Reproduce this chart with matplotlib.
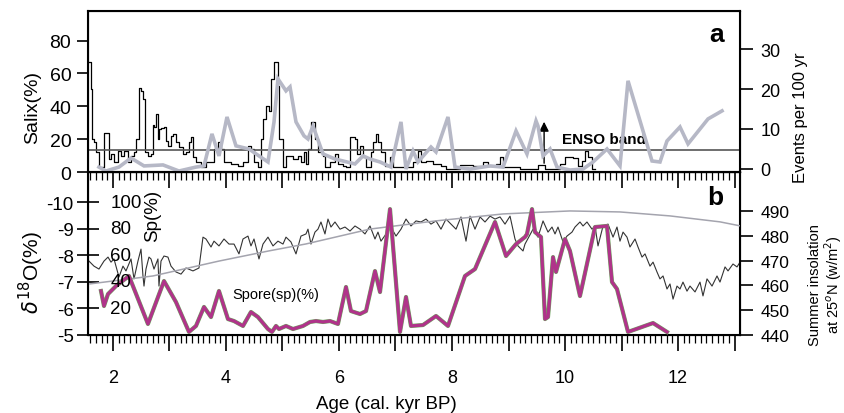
import matplotlib
matplotlib.use('Agg')
import matplotlib.pyplot as plt
from matplotlib.ticker import MultipleLocator

plt.rcParams['font.family'] = ['Liberation Sans', 'DejaVu Sans']
plt.rcParams['axes.unicode_minus'] = False
plt.rcParams['mathtext.fontset'] = 'dejavusans'

# --- panel a: Salix pollen (grey) and ENSO events per 100 yr (black steps)
salix_age = [1.752, 1.876, 2.106, 2.319, 2.549, 2.885, 3.168, 3.469, 3.611, 3.752,
             3.876, 4.018, 4.177, 4.407, 4.584, 4.743, 4.850, 4.920, 5.062, 5.133,
             5.239, 5.381, 5.451, 5.540, 5.717, 5.929, 6.071, 6.283, 6.425, 6.549,
             6.726, 6.920, 7.097, 7.186, 7.310, 7.398, 7.628, 7.717, 7.929, 8.053,
             8.319, 8.673, 8.903, 9.133, 9.327, 9.487, 9.522, 9.611, 9.735, 9.858,
             10.088, 10.319, 10.496, 10.743, 10.973, 11.115, 11.540, 11.681, 11.805, 12.035,
             12.177, 12.531, 12.779]
salix = [3.0, 0.6, 3.0, 8.5, 3.7, 4.3, 0.6, 3.0, 3.7, 23.2,
         9.8, 33.5, 15.9, 14.0, 9.8, 6.1, 30.5, 56.7, 49.4, 51.8,
         30.5, 22.0, 20.1, 28.0, 11.0, 7.9, 6.7, 4.9, 9.8, 7.9,
         6.1, 3.0, 30.5, 1.8, 12.8, 6.1, 15.2, 12.2, 33.5, 3.0,
         1.8, 3.7, 3.0, 25.0, 11.0, 31.1, 28.0, 9.8, 14.0, 3.0,
         1.2, 1.8, 6.1, 14.0, 3.7, 55.5, 6.7, 6.1, 18.9, 27.4,
         17.1, 32.3, 37.2]

event_age = [1.575, 1.611, 1.628, 1.664, 1.699, 1.752, 1.841, 1.929, 1.965, 2.018,
             2.088, 2.142, 2.195, 2.265, 2.319, 2.372, 2.407, 2.460, 2.496, 2.531,
             2.566, 2.619, 2.673, 2.708, 2.726, 2.761, 2.796, 2.814, 2.850, 2.903,
             2.938, 2.973, 3.027, 3.062, 3.115, 3.168, 3.239, 3.292, 3.345, 3.381,
             3.416, 3.469, 3.558, 3.646, 3.788, 3.858, 3.912, 3.965, 4.088, 4.212,
             4.301, 4.389, 4.442, 4.496, 4.566, 4.619, 4.655, 4.708, 4.761, 4.796,
             4.850, 4.920, 4.938, 5.009, 5.062, 5.186, 5.274, 5.327, 5.381, 5.416,
             5.451, 5.504, 5.575, 5.628, 5.717, 5.752, 5.841, 5.929, 5.982, 6.071,
             6.124, 6.195, 6.283, 6.319, 6.372, 6.425, 6.478, 6.566, 6.602, 6.655,
             6.690, 6.743, 6.814, 6.903, 6.956, 7.310, 7.398, 7.451, 7.540, 7.664,
             7.805, 7.894, 8.142, 8.372, 8.549, 8.637, 8.779, 8.850, 8.903, 9.204,
             9.522, 9.646, 9.912, 10.000, 10.142, 10.230, 10.301, 10.354, 10.407, 10.478,
             10.530]
events = [26.75, 20.0, 7.5, 6.75, 4.25, 0.5, 9.0, 2.5, 3.75, 1.75,
          4.5, 3.25, 4.5, 1.75, 3.25, 4.25, 7.5, 20.25, 19.5, 17.5,
          4.25, 3.25, 3.75, 11.0, 10.5, 13.75, 7.5, 10.0, 10.25, 10.5,
          7.0, 5.75, 8.25, 8.75, 6.75, 5.5, 3.75, 4.25, 6.75, 8.0,
          3.0, 1.75, 0.5, 1.75, 5.0, 6.75, 5.0, 1.75, 1.25, 0.75,
          1.75, 5.75, 5.0, 1.75, 0.5, 7.5, 12.5, 15.75, 14.5, 22.5,
          26.75, 20.75, 7.5, 0.5, 3.25, 2.5, 3.25, 1.75, 4.25, 1.25,
          5.0, 11.75, 7.5, 4.25, 3.25, 0.5, 1.75, 3.75, 1.25, 0.75,
          0.5, 8.0, 7.5, 3.75, 5.75, 3.0, 0.5, 4.25, 6.75, 8.75,
          6.75, 4.25, 0.75, 3.0, 0.5, 1.75, 4.5, 1.75, 2.0, 1.25,
          0.75, 0.0, 1.0, 0.75, 1.75, 0.75, 1.25, 3.0, 0.5, 0.0,
          1.0, 0.0, 1.25, 3.0, 2.75, 0.75, 2.0, 4.5, 3.0, 0.0,
          0.0]
enso_band = 4.75
arrow_age = 9.63
arrow_events = (0.75, 12.5)

# --- panel b: d18O (black), insolation (grey), spores (magenta)
d18o_age = [1.575, 1.664, 1.752, 1.841, 1.912, 1.965, 2.018, 2.106, 2.177, 2.230,
            2.319, 2.372, 2.442, 2.496, 2.531, 2.549, 2.584, 2.637, 2.673, 2.726,
            2.796, 2.814, 2.850, 2.903, 2.973, 3.027, 3.115, 3.204, 3.292, 3.416,
            3.522, 3.593, 3.646, 3.735, 3.788, 3.876, 3.965, 4.053, 4.142, 4.230,
            4.301, 4.389, 4.442, 4.496, 4.584, 4.655, 4.743, 4.832, 4.920, 5.009,
            5.062, 5.150, 5.239, 5.327, 5.416, 5.451, 5.504, 5.575, 5.628, 5.681,
            5.752, 5.805, 5.858, 5.929, 6.018, 6.106, 6.195, 6.283, 6.372, 6.460,
            6.549, 6.637, 6.690, 6.743, 6.832, 6.920, 7.009, 7.097, 7.186, 7.274,
            7.363, 7.451, 7.540, 7.628, 7.717, 7.805, 7.894, 7.982, 8.071, 8.159,
            8.248, 8.319, 8.407, 8.496, 8.584, 8.673, 8.761, 8.850, 8.938, 9.027,
            9.115, 9.168, 9.257, 9.292, 9.434, 9.522, 9.611, 9.699, 9.770, 9.823,
            9.876, 9.965, 10.035, 10.124, 10.177, 10.265, 10.319, 10.389, 10.478, 10.531,
            10.584, 10.673, 10.761, 10.850, 10.920, 10.973, 11.027, 11.097, 11.150, 11.239,
            11.292, 11.363, 11.416, 11.504, 11.558, 11.628, 11.681, 11.735, 11.805, 11.858,
            11.912, 11.982, 12.035, 12.088, 12.159, 12.212, 12.301, 12.389, 12.442, 12.513,
            12.602, 12.690, 12.743, 12.832, 12.885, 12.973, 13.044, 13.097]
d18o = [-7.78, -7.59, -7.48, -7.78, -7.93, -7.74, -7.86, -7.18, -7.59, -7.41,
        -7.86, -7.11, -7.78, -8.23, -7.22, -6.84, -7.48, -7.93, -7.86, -7.48,
        -7.86, -6.84, -7.78, -7.97, -7.93, -7.59, -7.37, -7.29, -7.52, -7.41,
        -7.52, -8.68, -8.61, -8.31, -8.53, -8.35, -8.61, -8.42, -8.42, -8.05,
        -8.61, -8.72, -8.35, -8.61, -7.86, -8.42, -8.68, -8.35, -8.53, -8.42,
        -8.68, -8.50, -8.05, -8.72, -8.80, -8.98, -8.42, -8.87, -8.98, -9.25,
        -8.80, -9.36, -9.06, -9.25, -8.98, -9.06, -8.91, -9.10, -8.98, -8.80,
        -9.10, -8.61, -8.87, -8.53, -8.80, -9.06, -8.72, -8.98, -9.36, -9.10,
        -9.29, -9.25, -9.36, -9.17, -9.29, -8.98, -9.36, -9.17, -8.98, -9.44,
        -8.53, -9.47, -8.98, -9.44, -9.25, -9.47, -9.36, -9.44, -9.17, -9.47,
        -8.61, -8.35, -8.16, -8.42, -8.98, -8.68, -9.29, -8.87, -9.06, -8.80,
        -9.06, -8.50, -8.72, -8.87, -9.06, -9.25, -9.10, -9.25, -8.98, -9.10,
        -8.35, -9.10, -9.17, -8.68, -9.06, -8.53, -8.87, -8.68, -8.31, -8.61,
        -8.31, -7.93, -8.05, -7.59, -7.74, -7.37, -7.11, -7.22, -6.73, -6.92,
        -6.35, -6.84, -6.73, -6.99, -6.65, -6.84, -6.62, -6.99, -6.47, -7.11,
        -6.84, -7.22, -6.99, -7.56, -7.41, -7.67, -7.56, -7.74]

insol_age = [1.593, 2.708, 3.876, 4.761, 5.416, 6.549, 7.717, 8.903, 10.088, 10.973,
             11.858, 12.743, 13.097]
insolation = [460.6, 463.8, 469.8, 473.9, 476.7, 482.7, 486.0, 488.8, 490.0, 489.6,
              488.0, 485.6, 484.0]

spore_age = [1.788, 1.841, 1.912, 2.053, 2.283, 2.619, 2.903, 3.115, 3.345, 3.469,
             3.611, 3.735, 3.876, 4.035, 4.142, 4.301, 4.442, 4.566, 4.743, 4.814,
             4.885, 4.938, 5.062, 5.186, 5.363, 5.487, 5.593, 5.717, 5.841, 5.982,
             6.124, 6.212, 6.372, 6.478, 6.637, 6.726, 6.903, 7.080, 7.186, 7.274,
             7.487, 7.717, 7.929, 8.230, 8.407, 8.761, 8.956, 9.133, 9.292, 9.327,
             9.416, 9.469, 9.575, 9.646, 9.699, 9.788, 9.841, 10.000, 10.088, 10.265,
             10.531, 10.743, 10.832, 10.920, 11.115, 11.558, 11.805]
spore = [33.1, 21.8, 30.8, 36.8, 44.4, 8.3, 40.6, 24.8, 2.3, 6.8,
         21.1, 13.5, 33.1, 12.0, 10.5, 6.8, 17.3, 13.5, 4.5, 2.3,
         6.8, 4.5, 6.8, 4.5, 6.8, 9.8, 10.5, 9.8, 10.5, 8.3,
         36.1, 18.0, 15.8, 18.0, 48.1, 32.3, 94.7, 2.3, 28.6, 6.8,
         7.5, 14.3, 6.8, 44.4, 49.6, 85.0, 59.4, 68.4, 73.7, 75.9,
         94.7, 77.4, 73.7, 12.0, 13.5, 58.6, 47.4, 72.2, 63.2, 29.3,
         81.2, 82.0, 39.8, 34.6, 2.3, 9.0, 2.3]

salix_ticks = [0, 20, 40, 60, 80]
event_ticks = [0, 10, 20, 30]
d18o_ticks = [-10, -9, -8, -7, -6, -5]
sp_ticks = [100, 80, 60, 40, 20]
insol_ticks = [440, 450, 460, 470, 480, 490]
age_ticks = list(range(2, 14))
age_labels = [str(a) if a % 2 == 0 else '' for a in age_ticks]

fig = plt.figure(figsize=(8.44, 4.14), dpi=100)
L, W = 88 / 844, 652 / 844
ax_b = fig.add_axes([L, 1 - 336 / 414, W, 163 / 414])
ax_a = fig.add_axes([L, 1 - 173 / 414, W, 161 / 414])
ax_b.patch.set_visible(False)

xlim = (1.558, 13.097)
for ax in (ax_a, ax_b):
    ax.set_xlim(xlim)
    ax.set_xticks(age_ticks)
    ax.xaxis.set_minor_locator(MultipleLocator(0.1))
    ax.tick_params(axis='x', which='major', direction='out', length=11.5, width=1.2)
    ax.tick_params(axis='x', which='minor', direction='out', length=5.5, width=0.9)
    for s in ax.spines.values():
        s.set_linewidth(1.5)

# panel a
ax_e = ax_a.twinx()
ax_e.set_zorder(ax_a.get_zorder() - 1)
ax_a.patch.set_visible(False)
ax_e.patch.set_visible(False)
ax_a.set_ylim(0, 98)
ax_a.set_yticks(salix_ticks)
ax_a.tick_params(axis='y', direction='out', length=8, width=1.2, labelsize=14, pad=4)
ax_a.tick_params(axis='x', labelbottom=False)
ax_a.plot(salix_age, salix, color='#b6b8c6', lw=2.6, solid_joinstyle='miter')

ax_e.set_ylim(-0.75, 39.5)
ax_e.set_yticks(event_ticks)
ax_e.tick_params(axis='y', direction='out', length=9.5, width=1.2, labelsize=13, pad=5)
ax_e.step(event_age, events, where='post', color='black', lw=0.9)
ax_e.axhline(enso_band, color='#555555', lw=1.2)
ax_e.text(9.94, enso_band + 0.9, 'ENSO band', fontsize=11, fontweight='bold', va='bottom')
ax_e.annotate('', xy=(arrow_age, arrow_events[1]), xytext=(arrow_age, arrow_events[0]),
              arrowprops=dict(arrowstyle='-|>', color='black', lw=1.0,
                              mutation_scale=14))
ax_a.text(0.975, 0.93, 'a', transform=ax_a.transAxes, fontsize=19, fontweight='bold',
          ha='right', va='top')

# panel b
ax_b.set_ylim(-5, -11.13)
ax_b.set_yticks(d18o_ticks)
ax_b.set_xticklabels(age_labels)
ax_b.tick_params(axis='y', direction='inout', length=16.5, width=1.2, labelsize=13.5, pad=2)
ax_b.tick_params(axis='x', which='major', labelsize=13, pad=13)
ax_b.plot(d18o_age, d18o, color='#333333', lw=0.8)

ax_i = ax_b.twinx()
ax_i.set_ylim(440, 505.7)
ax_i.set_yticks(insol_ticks)
ax_i.tick_params(axis='y', direction='out', length=9.5, width=1.2, labelsize=12.5, pad=5)
ax_i.plot(insol_age, insolation, color='#a4a4ae', lw=1.1)

ax_s = ax_b.twinx()
ax_s.set_ylim(0, 122.6)
ax_s.axis('off')
ax_s.plot(spore_age, spore, color='#6fa860', lw=3.0)
ax_s.plot(spore_age, spore, color='#b0338a', lw=2.3)
for v in sp_ticks:
    ax_s.text(0.034, v, str(v), transform=ax_s.get_yaxis_transform(), fontsize=13.5,
              ha='left', va='center')
ax_s.text(4.106, 31, 'Spore(sp)(%)', fontsize=10.5, va='center')
ax_b.text(0.975, 0.92, 'b', transform=ax_b.transAxes, fontsize=19, fontweight='bold',
          ha='right', va='top')

# axis titles
fig.text(33 / 844, 1 - 108 / 414, 'Salix(%)', rotation=90, fontsize=14,
         ha='center', va='center')
fig.text(31 / 844, 1 - 273 / 414, r'$\delta^{18}$O(%)', rotation=90, fontsize=15,
         ha='center', va='center')
fig.text(153 / 844, 1 - 216 / 414, 'Sp(%)', rotation=90, fontsize=13.5,
         ha='center', va='center')
fig.text(800 / 844, 1 - 118 / 414, 'Events per 100 yr', rotation=90, fontsize=12,
         ha='center', va='center')
fig.text(826 / 844, 1 - 285 / 414, 'Summer insolation\nat 25$^{o}$N (w/m$^{2}$)',
         rotation=90, fontsize=10.5, ha='center', va='center', linespacing=1.0)
fig.text(386 / 844, 1 - 405 / 414, 'Age (cal. kyr BP)', fontsize=13.5,
         ha='center', va='center')

fig.savefig('out.png', dpi=100)
